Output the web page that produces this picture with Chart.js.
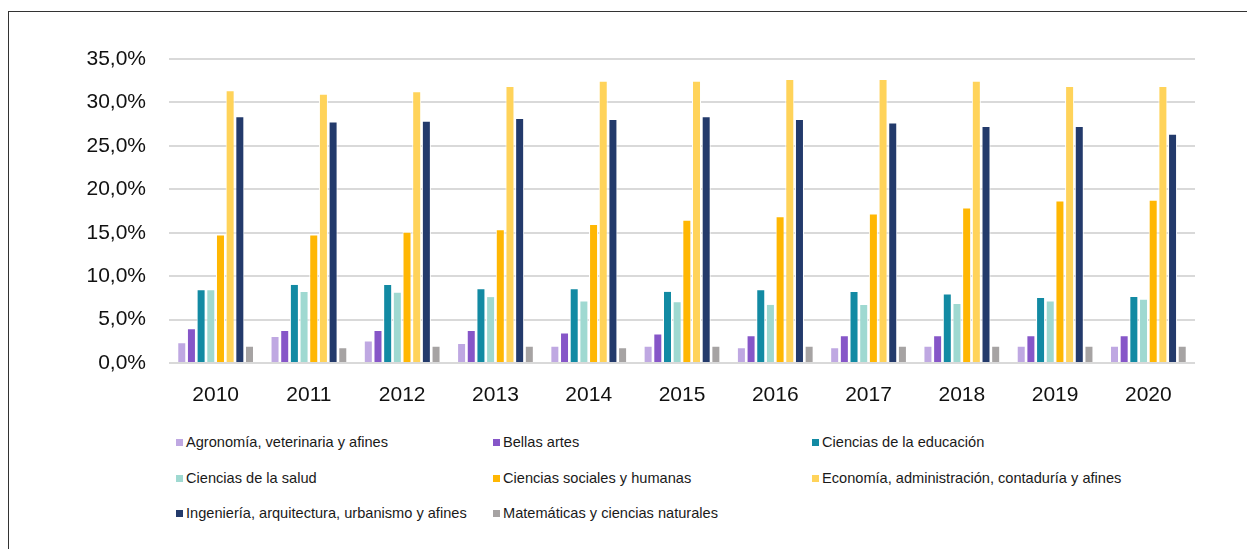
<!DOCTYPE html>
<html>
<head>
<meta charset="utf-8">
<script src="https://cdn.jsdelivr.net/npm/chart.js@4.4.0/dist/chart.umd.min.js"></script>
<style>
  html, body { margin: 0; padding: 0; background: #fff; overflow: hidden; }
  body { width: 1247px; height: 549px; position: relative; font-family: "Liberation Sans", Arial, sans-serif; }
  #frame { position: absolute; left: 8px; top: 11px; width: 1260px; height: 560px; border: 1px solid #333; }
  #wrap { position: absolute; left: 0; top: 0; width: 1247px; height: 420px; }
  #legend { position: absolute; left: 0; top: 0; }
  .item { position: absolute; font-size: 14.6px; color: #1a1a1a; white-space: nowrap; line-height: 16px; }
  .item .box { display: inline-block; width: 7px; height: 7px; margin-right: 3px; vertical-align: 1px; }
</style>
</head>
<body>
<div id="frame"></div>
<div id="wrap"><canvas id="chart"></canvas></div>
<div id="legend"></div>
<script>
document.addEventListener("DOMContentLoaded", function () {
    // --- DATA ---
    const years = ["2010", "2011", "2012", "2013", "2014", "2015", "2016", "2017", "2018", "2019", "2020"];
    const seriesNames = [
        "Agronomía, veterinaria y afines",
        "Bellas artes",
        "Ciencias de la educación",
        "Ciencias de la salud",
        "Ciencias sociales y humanas",
        "Economía, administración, contaduría y afines",
        "Ingeniería, arquitectura, urbanismo y afines",
        "Matemáticas y ciencias naturales"
    ];
    const agronomia = [2.4, 3.1, 2.6, 2.3, 2.0, 2.0, 1.8, 1.8, 2.0, 2.0, 2.0];
    const bellasArtes = [4.0, 3.8, 3.8, 3.8, 3.5, 3.4, 3.2, 3.2, 3.2, 3.2, 3.2];
    const educacion = [8.5, 9.1, 9.1, 8.6, 8.6, 8.3, 8.5, 8.3, 8.0, 7.6, 7.7];
    const salud = [8.5, 8.3, 8.2, 7.7, 7.2, 7.1, 6.8, 6.8, 6.9, 7.2, 7.4];
    const sociales = [14.8, 14.8, 15.1, 15.4, 16.0, 16.5, 16.9, 17.2, 17.9, 18.7, 18.8];
    const economia = [31.4, 31.0, 31.3, 31.9, 32.5, 32.5, 32.7, 32.7, 32.5, 31.9, 31.9];
    const ingenieria = [28.4, 27.8, 27.9, 28.2, 28.1, 28.4, 28.1, 27.7, 27.3, 27.3, 26.4];
    const matematicas = [2.0, 1.8, 2.0, 2.0, 1.8, 2.0, 2.0, 2.0, 2.0, 2.0, 2.0];

    const seriesValues = [agronomia, bellasArtes, educacion, salud, sociales, economia, ingenieria, matematicas];
    const colors = ['#bfa8e2', '#8656c8', '#128aa3', '#9fd9d1', '#ffb703', '#ffd35a', '#233a6b', '#a6a3a3'];

    const datasets = seriesNames.map((name, i) => ({
        label: name,
        data: seriesValues[i],
        backgroundColor: colors[i],
        borderColor: '#ffffff',
        borderWidth: 1,
        barPercentage: 0.93,
        categoryPercentage: 0.83
    }));

    const tickFont = { family: "'Liberation Sans', Arial, sans-serif", size: 21 };

    const canvas = document.getElementById('chart');
    new Chart(canvas.getContext('2d'), {
        type: 'bar',
        data: { labels: years, datasets: datasets },
        options: {
            responsive: true,
            maintainAspectRatio: false,
            animation: false,
            layout: { padding: { top: 59, right: 52, left: 0, bottom: 0 } },
            plugins: { legend: { display: false }, tooltip: { enabled: false } },
            scales: {
                x: {
                    grid: { display: false, drawTicks: false },
                    border: { display: false },
                    ticks: { font: tickFont, color: '#111111', padding: 20, maxRotation: 0 },
                    afterFit: function (s) { s.height = 57; }
                },
                y: {
                    min: 0,
                    max: 35,
                    grid: { color: '#d9d9d9', lineWidth: 2, drawTicks: false },
                    border: { display: false },
                    ticks: {
                        stepSize: 5,
                        font: tickFont,
                        color: '#111111',
                        padding: 23,
                        callback: v => v.toFixed(1).replace('.', ',') + '%'
                    },
                    afterFit: function (s) { s.width = 169; }
                }
            }
        }
    });

    // --- LEGEND (3 columns) ---
    const legend = document.getElementById('legend');
    const colX = [176, 493, 812];
    const rowY = [434, 470, 505];
    seriesNames.forEach((name, i) => {
        const item = document.createElement('div');
        item.className = 'item';
        item.style.left = colX[i % 3] + 'px';
        item.style.top = rowY[Math.floor(i / 3)] + 'px';
        item.innerHTML = `<span class="box" style="background:${colors[i]}"></span>${name}`;
        legend.appendChild(item);
    });
});
</script>
</body>
</html>
